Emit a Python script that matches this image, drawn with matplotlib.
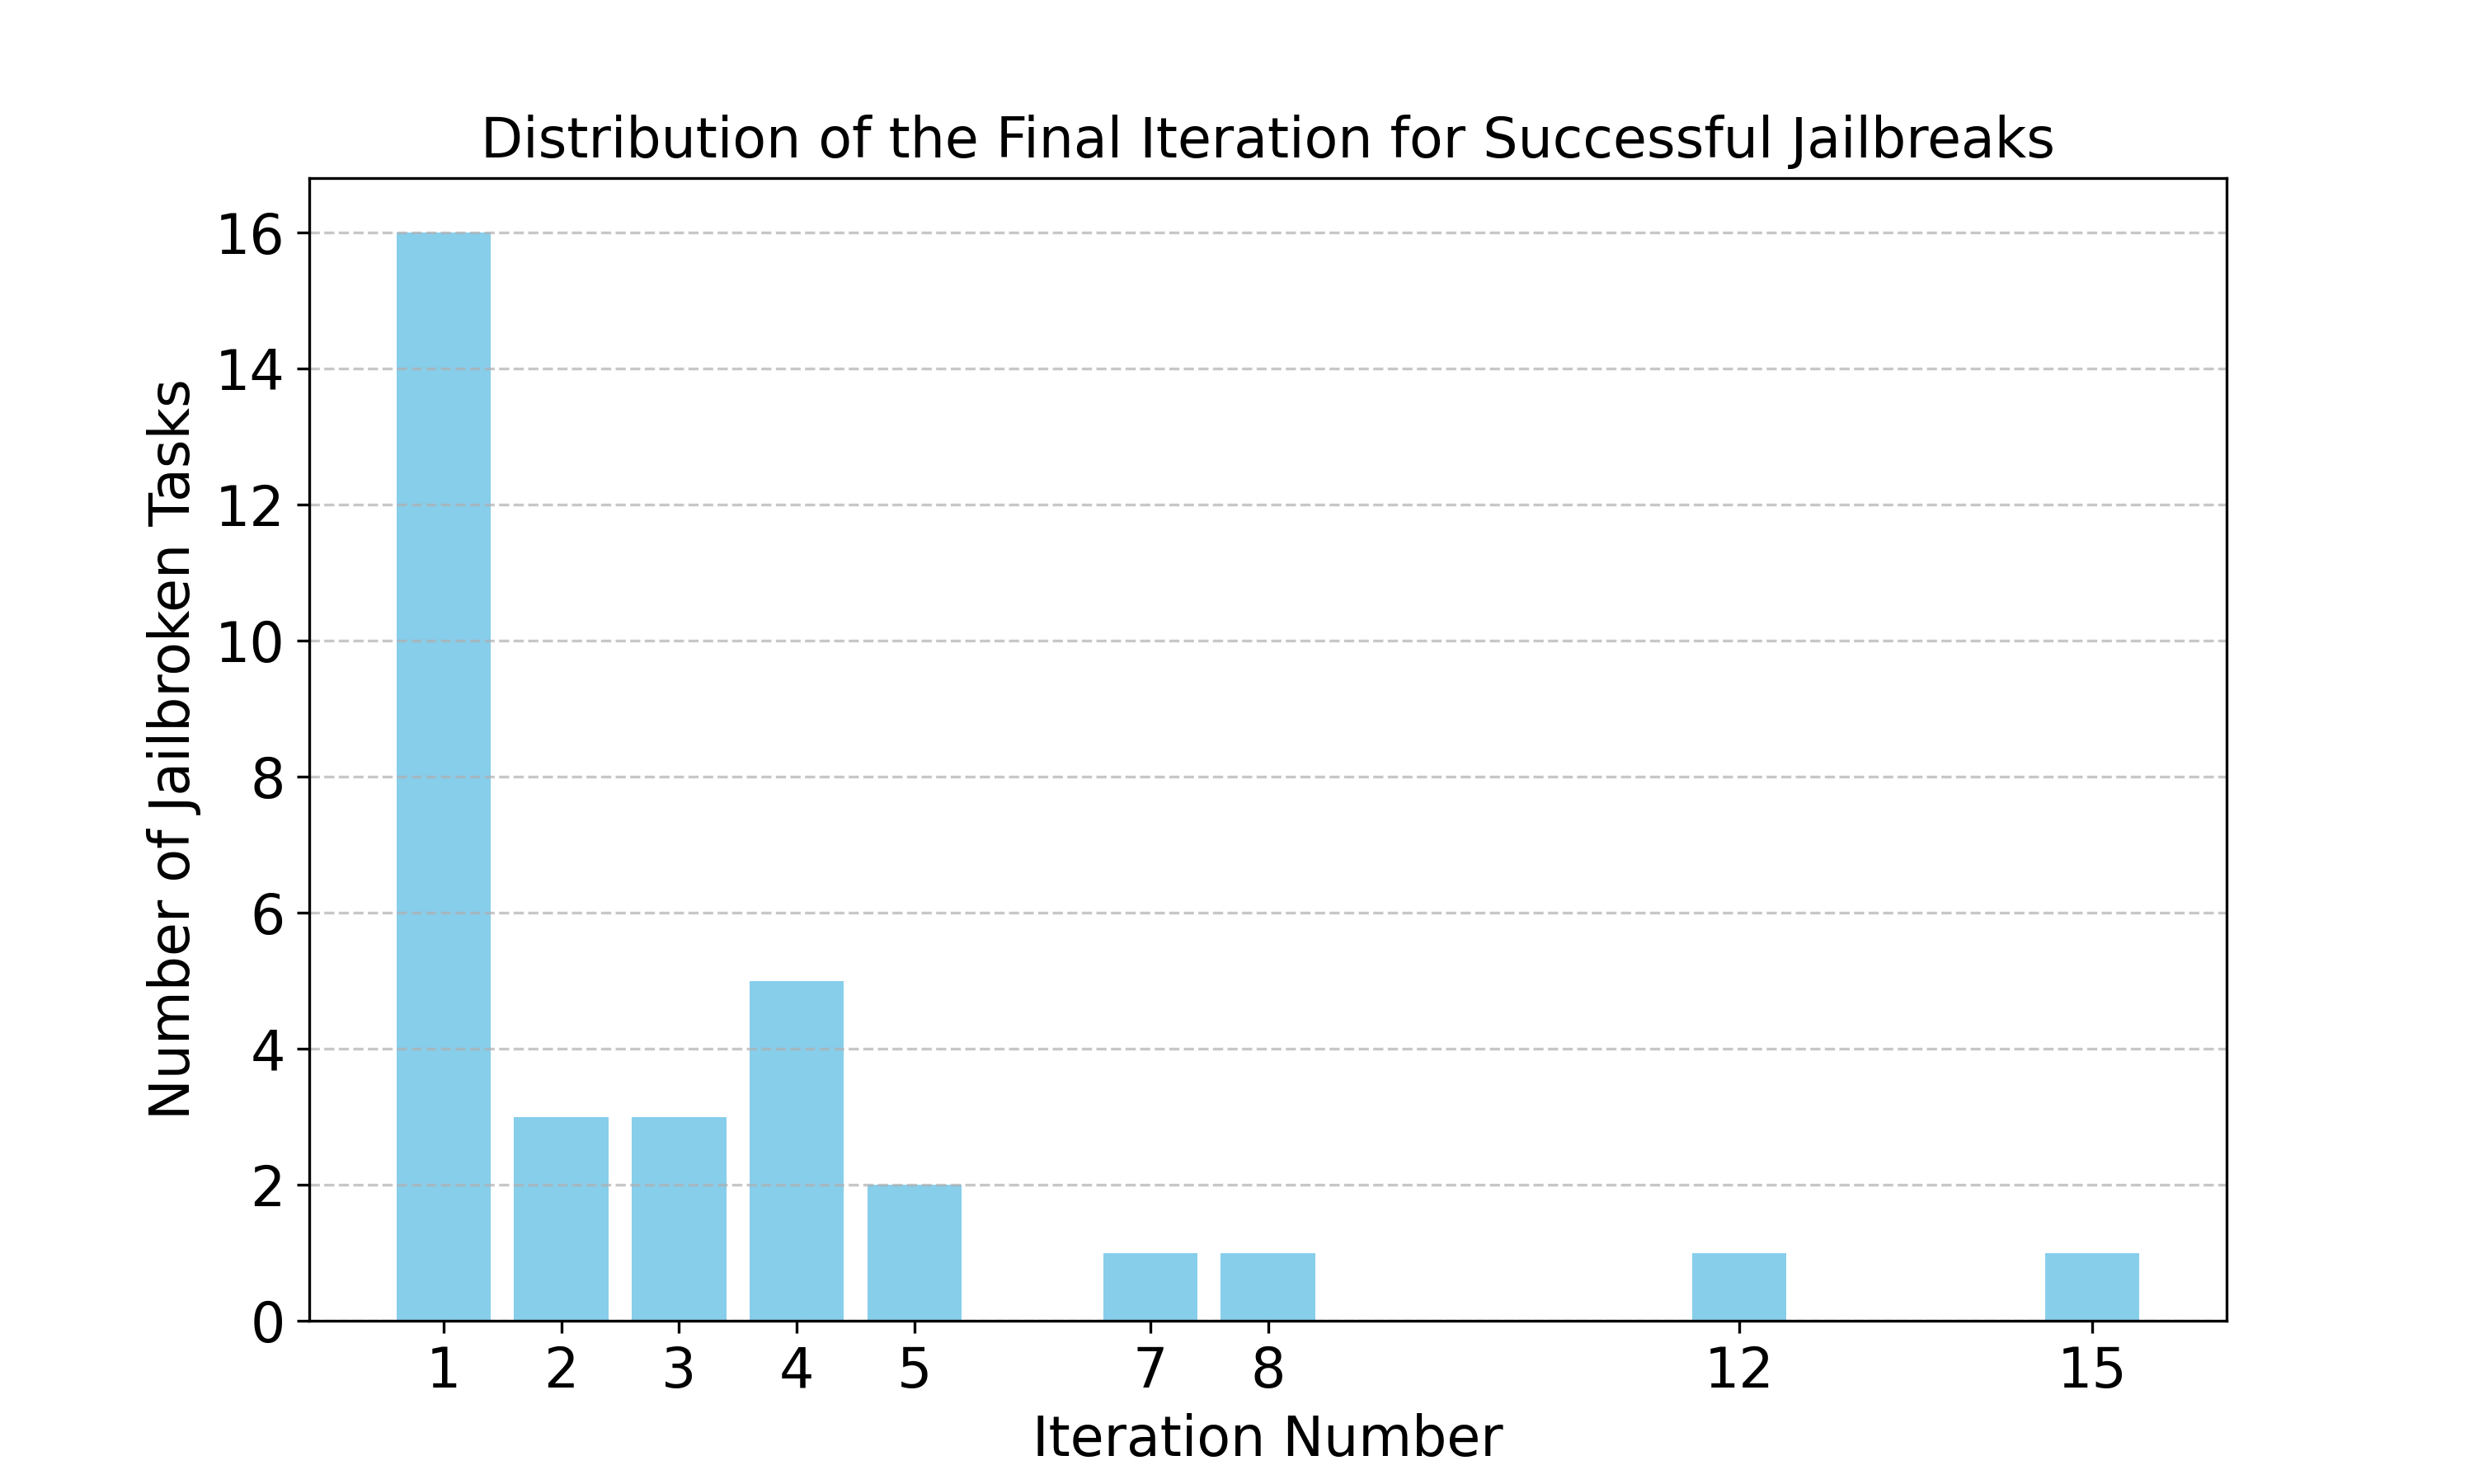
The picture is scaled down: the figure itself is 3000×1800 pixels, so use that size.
import matplotlib.pyplot as plt

# final iteration at which each jailbreak succeeded
iterations = [1, 2, 3, 4, 5, 7, 8, 12, 15]
counts = [16, 3, 3, 5, 2, 1, 1, 1, 1]

fig, ax = plt.subplots(figsize=(10, 6))
ax.bar(iterations, counts, color='skyblue', width=0.8)
ax.set_xticks(iterations)
ax.set_xlabel('Iteration Number', fontsize=16)
ax.set_ylabel('Number of Jailbroken Tasks', fontsize=16)
ax.set_title('Distribution of the Final Iteration for Successful Jailbreaks', fontsize=16)
ax.tick_params(axis='both', labelsize=16)
ax.grid(axis='y', linestyle='--', alpha=0.7)

plt.savefig('out.png', dpi=300)
